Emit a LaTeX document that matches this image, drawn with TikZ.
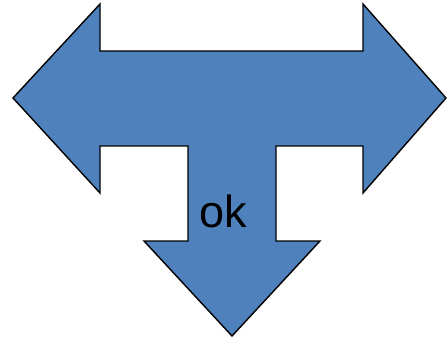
\documentclass[tikz,border=0pt]{standalone}
\usepackage{fontspec}
\setmainfont{Liberation Sans}
\usetikzlibrary{positioning}

\begin{document}
\begin{tikzpicture}[
    x=1pt, y=-1pt,
    tarrow/.style={draw=black, line width=1.4pt, line join=miter, fill=arrowblue},
    lbl/.style={font=\fontsize{45}{48}\selectfont, inner sep=0pt},
  ]
  \definecolor{arrowblue}{HTML}{4F81BD}
  \useasboundingbox (0,0) rectangle (447,339);

  % Three-way arrow
  \draw[tarrow]
    (13,98) -- (100,4) -- (100,51) -- (363,51) -- (363,4) -- (446,98)
    -- (363,193) -- (363,146) -- (276,146) -- (276,241) -- (320,241)
    -- (232,336) -- (144,241) -- (188,241) -- (188,146) -- (100,146)
    -- (100,193) -- cycle;

  % Label
  \node[lbl, anchor=base] (ok) at (223,227) {ok};
\end{tikzpicture}
\end{document}
